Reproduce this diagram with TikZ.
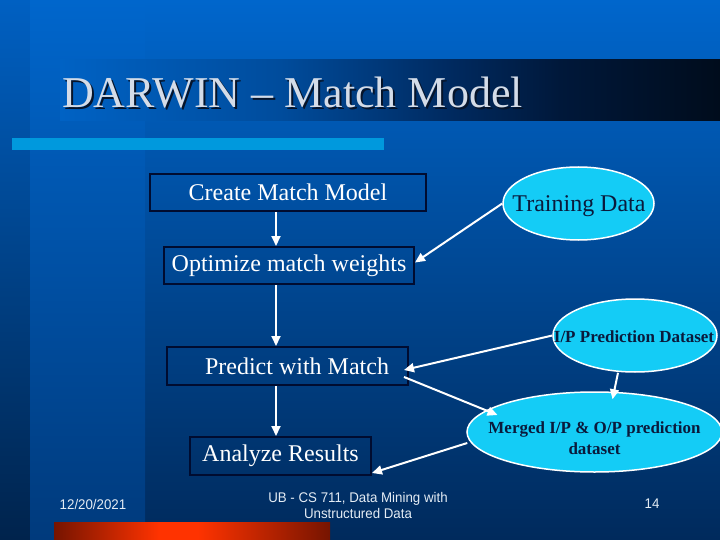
\documentclass[tikz,border=0pt]{standalone}
\usepackage{fontspec}
\setmainfont{Liberation Serif}
\newfontfamily\footfont{Liberation Sans}
\usetikzlibrary{shapes.geometric,arrows.meta,calc}
\definecolor{bgtop}{HTML}{0066CC}
\definecolor{bgbot}{HTML}{002A5C}
\definecolor{lbtop}{HTML}{0060C2}
\definecolor{lbbot}{HTML}{00234C}
\definecolor{mbbot}{HTML}{003A7C}
\definecolor{tb1}{HTML}{0062C4}
\definecolor{tb2}{HTML}{004C9C}
\definecolor{tb3}{HTML}{002A60}
\definecolor{tb4}{HTML}{00183A}
\definecolor{tb5}{HTML}{000C1C}
\definecolor{rdk}{HTML}{761400}
\definecolor{ror}{HTML}{FF3300}
\definecolor{lightbar}{HTML}{0099DD}
\definecolor{boxline}{HTML}{000C30}
\definecolor{cyanfill}{HTML}{14CCF6}
\definecolor{ovaltext}{HTML}{0A1A3C}
\definecolor{titletext}{HTML}{D4DCE8}
\definecolor{titleshadow}{HTML}{06142A}
\definecolor{foottext}{HTML}{E4ECF4}
\pgfdeclarehorizontalshading{titlebarshade}{100bp}{color(0bp)=(tb1); color(25bp)=(tb1); color(41.7bp)=(tb2); color(54.5bp)=(tb3); color(62.9bp)=(tb4); color(75bp)=(tb5); color(100bp)=(tb5)}
\pgfdeclarehorizontalshading{redbarshade}{100bp}{color(0bp)=(rdk); color(25bp)=(rdk); color(44bp)=(ror); color(51bp)=(ror); color(75bp)=(rdk); color(100bp)=(rdk)}
\tikzset{
  stepbox/.style={draw=boxline, line width=2pt, minimum height=37pt, inner sep=0pt,
    text=white, font=\fontsize{24}{28}\selectfont},
  oval/.style={ellipse, draw=white, line width=1.5pt, fill=cyanfill, inner sep=0pt},
  ovaltxt/.style={text=ovaltext, inner sep=0pt, align=center},
  arr/.style={draw=white, line width=2pt, -{Triangle[length=10pt,width=9pt]}},
  foot/.style={text=foottext, font=\footfont\fontsize{14}{17}\selectfont, inner sep=0pt, align=center}
}
\begin{document}
\begin{tikzpicture}[x=1pt,y=-1pt]
\useasboundingbox (0,0) rectangle (720,540);
% background
\shade[top color=bgtop, bottom color=bgbot] (0,0) rectangle (720,540);
\shade[top color=lbtop, bottom color=lbbot] (0,0) rectangle (30,540);
\shade[top color=bgtop, bottom color=mbbot] (30,0) rectangle (145,540);
% title bar
\shade[shading=titlebarshade] (60,60) rectangle (720,121);
\node[anchor=base west, inner sep=0pt, text=titleshadow, font=\fontsize{44}{50}\selectfont] at (64,110) {DARWIN – Match Model};
\node[anchor=base west, inner sep=0pt, text=titletext, font=\fontsize{44}{50}\selectfont] (title) at (62,108) {DARWIN – Match Model};
\fill[lightbar] (12,138) rectangle (384,150);
% red bar
\shade[shading=redbarshade] (54,522) rectangle (330,540);
% process boxes
\coordinate (spine) at (276,0);
\node[stepbox, minimum width=276pt] (create) at (288,192.5) {Create Match Model};
\node[stepbox, minimum width=250pt] (optimize) at (289,265.5) {Optimize match weights};
\node[stepbox, minimum width=241pt, minimum height=38pt] (predict) at (287.5,366) {\hspace{19pt}Predict with Match};
\node[stepbox, minimum width=181pt, minimum height=38pt] (analyze) at (280.5,456) {Analyze Results\hspace{7pt}};
% ovals
\node[oval, minimum width=151pt, minimum height=73pt] (training) at (578.5,203.5) {};
\node[ovaltxt, font=\fontsize{24}{28}\selectfont] (trainingtext) at (579,206) {Training Data};
\node[oval, minimum width=164pt, minimum height=73pt] (ipdata) at (635,335.5) {};
\node[ovaltxt, font=\bfseries\fontsize{17}{20}\selectfont] (ipdatatext) at (634,337) {I/P Prediction Dataset};
\node[oval, minimum width=255pt, minimum height=80pt] (merged) at (594.5,432) {};
\node[ovaltxt, font=\bfseries\fontsize{17}{21}\selectfont] (mergedtext) at (594.5,438) {Merged I/P \& O/P prediction\\dataset};
% connectors
\draw[arr] (create.south -| spine) -- (optimize.north -| spine);
\draw[arr] (optimize.south -| spine) -- (predict.north -| spine);
\draw[arr] (predict.south -| spine) -- (analyze.north -| spine);
\draw[arr] (training.west) -- ($(optimize.east)+(0,-3)$);
\draw[arr] (ipdata.west) -- ($(predict.east)+(-5,4)$);
\draw[arr] ($(predict.east)+(-5,11)$) -- ($(merged.center)+(-97,-17)$);
\draw[arr] ($(ipdata.south)+(-17,0)$) -- ($(merged.north)+(18,8)$);
\draw[arr] ($(merged.west)+(1,11)$) -- ($(analyze.south east)+(0,-3)$);
% footer
\node[foot] (date) at (93,504) {\scalebox{0.95}[1]{12/20/2021}};
\node[foot] (course) at (358,505) {\scalebox{0.95}[1]{UB - CS 711, Data Mining with}\\[-1pt]\scalebox{0.95}[1]{Unstructured Data}};
\node[foot] (page) at (652,504) {\scalebox{0.95}[1]{14}};
\end{tikzpicture}
\end{document}
